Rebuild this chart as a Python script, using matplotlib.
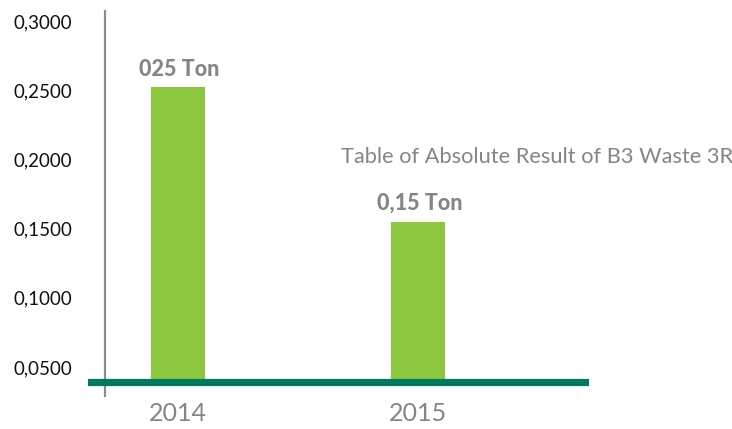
import matplotlib
matplotlib.use("Agg")
import matplotlib.pyplot as plt

# data
years = ["2014", "2015"]
values = [0.252, 0.155]
bar_labels = ["025 Ton", "0,15 Ton"]
baseline = 0.039
y_ticks = [0.05, 0.10, 0.15, 0.20, 0.25, 0.30]
y_tick_labels = ["0,0500", "0,1000", "0,1500", "0,2000", "0,2500", "0,3000"]
title = "Table of Absolute Result of B3 Waste 3R"

BAR_GREEN = "#8dc63f"
LINE_GREEN = "#007a5e"
GREY = "#858585"

plt.rcParams["font.family"] = ["Lato", "DejaVu Sans"]

W, H = 732, 429
fig = plt.figure(figsize=(W / 100, H / 100), dpi=100)
# axes box in pixels: x 88..589, y 11..396 (from top)
ax = fig.add_axes([88 / W, 1 - 396 / H, (589 - 88) / W, (396 - 11) / H])

x = list(range(len(years)))
heights = [v - baseline for v in values]
ax.bar(x, heights, bottom=baseline, width=0.228, color=BAR_GREEN, zorder=2)

for xi, v, lab in zip(x, values, bar_labels):
    ax.annotate(lab, (xi, v), xytext=(1, 13), textcoords="offset points",
                ha="center", va="center", fontsize=15.5, fontweight="black",
                color=GREY)

ax.axhline(baseline, color=LINE_GREEN, linewidth=5.2, zorder=3)
ax.plot([17 / 501, 17 / 501], [0, 1], transform=ax.transAxes,
        color="#8c8c8c", linewidth=1.6, clip_on=False, zorder=1)

ax.set_xlim(-0.375, 1.7125)
ax.set_ylim(0.0290, 0.3072)

ax.set_yticks(y_ticks)
ax.set_yticklabels(y_tick_labels, fontsize=13.5, color="#111111")
for t in ax.get_yticklabels():
    t.set_horizontalalignment("left")
ax.tick_params(axis="y", length=0, pad=(88 - 14) * 0.72)

ax.set_xticks(x)
ax.set_xticklabels(years, fontsize=18, color=GREY)
ax.tick_params(axis="x", length=0, pad=4)

for s in ax.spines.values():
    s.set_visible(False)

fig.text(341 / W, 1 - 157 / H, title, fontsize=15.7, color=GREY,
         ha="left", va="center")

fig.savefig("out.png", dpi=100)
